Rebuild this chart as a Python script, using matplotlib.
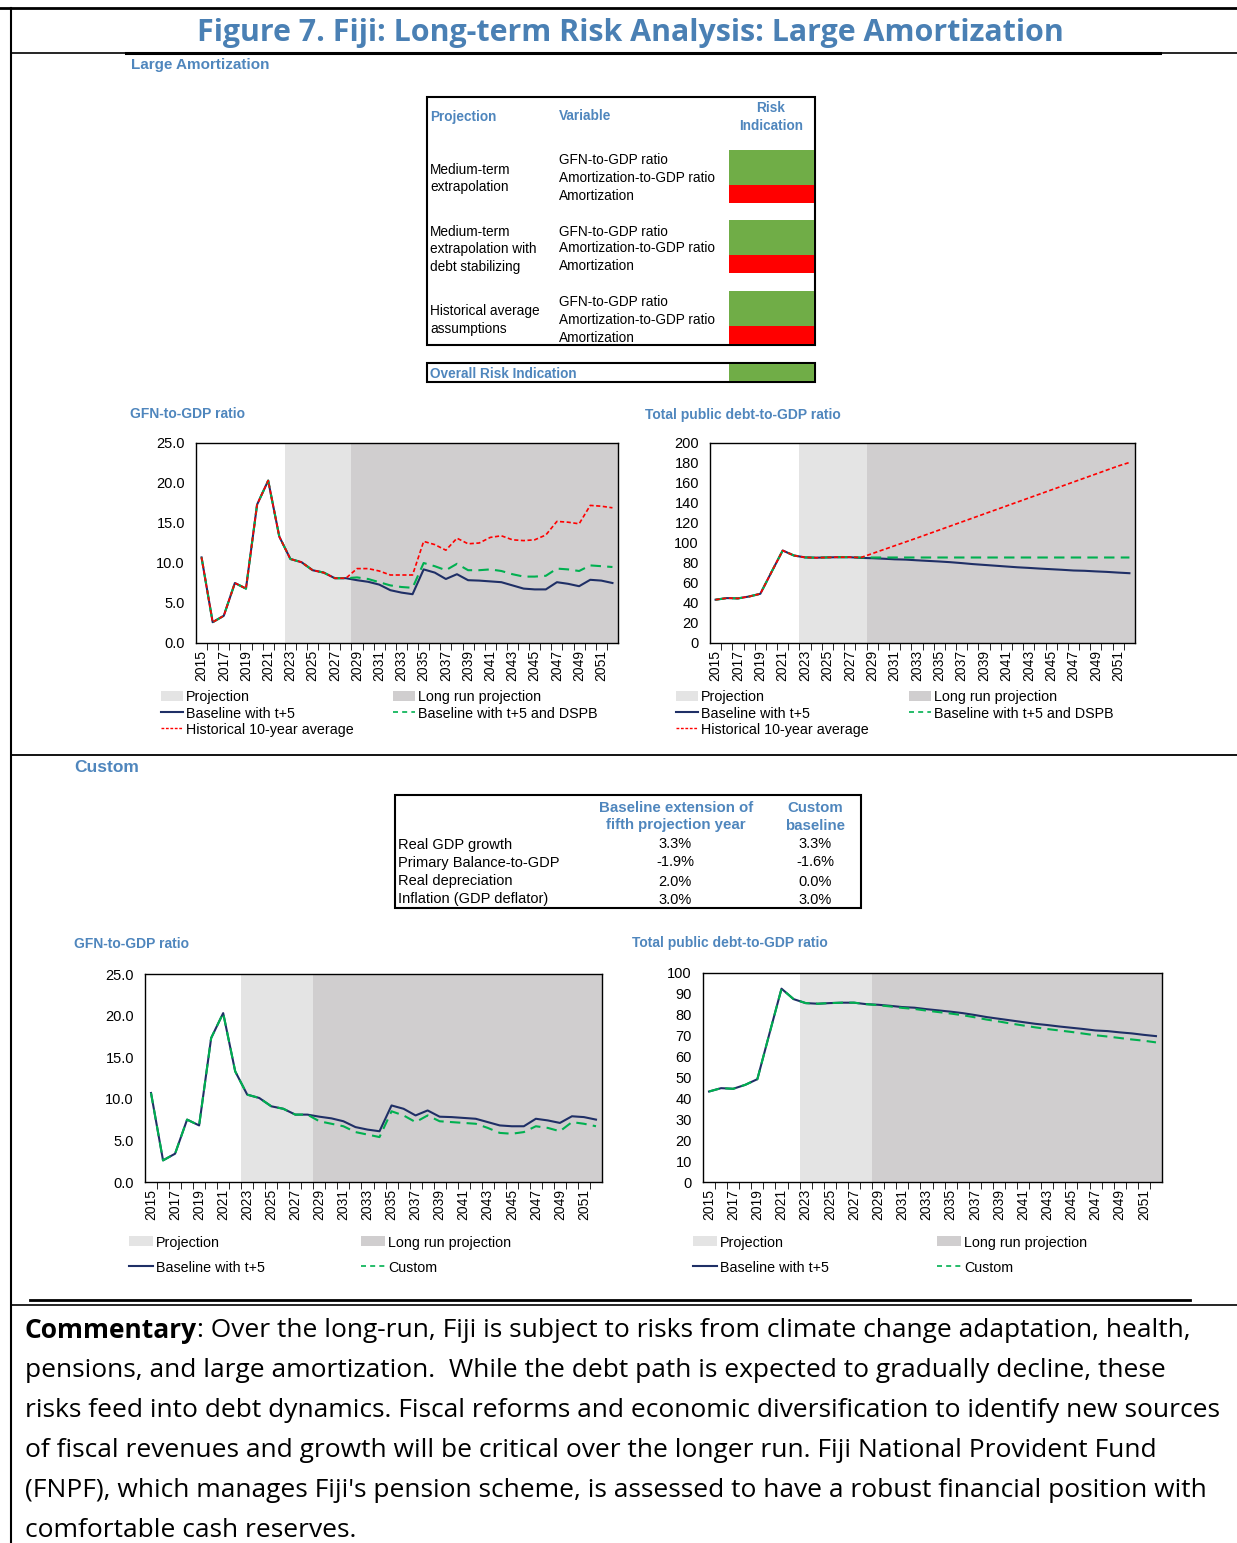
import numpy as np
import matplotlib
matplotlib.use("Agg")
import matplotlib.pyplot as plt
from matplotlib.patches import Rectangle
from matplotlib.lines import Line2D

W, H = 1237, 1543
plt.rcParams['font.family'] = ['Liberation Sans', 'DejaVu Sans']

years = list(range(2015, 2053))

# GFN-to-GDP ratio
gfn_base = [10.7, 2.6, 3.4, 7.5, 6.8, 17.3, 20.3, 13.3, 10.5, 10.1, 9.1, 8.8, 8.1, 8.1,
            7.85, 7.65, 7.3, 6.6, 6.3, 6.1, 9.2, 8.8, 8.0, 8.6, 7.85, 7.8, 7.7, 7.6,
            7.2, 6.8, 6.7, 6.7, 7.6, 7.4, 7.1, 7.9, 7.8, 7.5]
gfn_dspb = [10.7, 2.6, 3.4, 7.5, 6.8, 17.3, 20.3, 13.3, 10.5, 10.1, 9.1, 8.8, 8.1, 8.1,
            8.2, 8.0, 7.6, 7.2, 7.0, 6.9, 10.0, 9.6, 9.1, 9.9, 9.1, 9.1, 9.2, 9.0,
            8.6, 8.3, 8.3, 8.4, 9.3, 9.2, 9.0, 9.7, 9.6, 9.5]
gfn_hist = [10.7, 2.6, 3.4, 7.5, 6.8, 17.3, 20.3, 13.3, 10.5, 10.1, 9.1, 8.8, 8.1, 8.1,
            9.3, 9.3, 9.0, 8.5, 8.5, 8.5, 12.7, 12.3, 11.6, 13.1, 12.4, 12.5, 13.2, 13.4,
            12.9, 12.8, 12.9, 13.5, 15.2, 15.1, 14.9, 17.2, 17.1, 16.9]
gfn_custom = [10.7, 2.6, 3.4, 7.5, 6.8, 17.3, 20.3, 13.3, 10.5, 10.1, 9.1, 8.8, 8.1, 8.1,
              7.3, 7.0, 6.7, 6.0, 5.7, 5.4, 8.5, 8.0, 7.2, 8.0, 7.3, 7.2, 7.1, 7.0,
              6.5, 5.9, 5.8, 6.0, 6.7, 6.5, 6.1, 7.2, 7.0, 6.7]

# Total public debt-to-GDP ratio
debt_base = [43.3, 44.9, 44.6, 46.5, 49.2, 71.0, 92.5, 87.5, 85.6, 85.3, 85.6, 85.8, 85.8, 85.1,
             84.8, 84.3, 83.7, 83.4, 82.7, 82.1, 81.5, 80.8, 79.9, 78.9, 78.1, 77.3, 76.5, 75.7,
             75.1, 74.4, 73.8, 73.2, 72.5, 72.2, 71.6, 71.1, 70.4, 69.8]
debt_dspb = [43.3, 44.9, 44.6, 46.5, 49.2, 71.0, 92.5, 87.5, 85.6, 85.3, 85.6, 85.8, 85.8, 85.5,
             85.5, 85.5, 85.5, 85.5, 85.5, 85.5, 85.5, 85.5, 85.5, 85.5, 85.5, 85.5, 85.5, 85.5,
             85.5, 85.5, 85.5, 85.5, 85.5, 85.5, 85.5, 85.5, 85.5, 85.5]
debt_hist = [43.3, 44.9, 44.6, 46.5, 49.2, 71.0, 92.5, 87.5, 85.6, 85.3, 85.6, 85.8, 85.8, 85.5,
             89.4, 93.3, 97.2, 101.1, 105.0, 109.0, 113.0, 117.0, 121.0, 125.0, 129.0, 133.0,
             137.0, 141.0, 145.0, 149.0, 153.0, 157.0, 161.0, 165.0, 169.0, 173.0, 177.0, 180.5]
debt_custom = [43.3, 44.9, 44.6, 46.5, 49.2, 71.0, 92.5, 87.5, 85.6, 85.3, 85.6, 85.8, 85.8, 85.1,
               84.6, 84.0, 83.3, 82.8, 82.0, 81.3, 80.6, 79.8, 78.8, 77.7, 76.8, 75.8, 74.9, 74.0,
               73.2, 72.5, 71.8, 71.0, 70.2, 69.6, 68.9, 68.2, 67.6, 66.8]

# risk table
proj_labels = [["Medium-term", "extrapolation"],
               ["Medium-term", "extrapolation with", "debt stabilizing"],
               ["Historical average", "assumptions"]]
variables = ["GFN-to-GDP ratio", "Amortization-to-GDP ratio", "Amortization"]
risk_colors = [["#70ad47", "#ff0000"], ["#70ad47", "#ff0000"], ["#70ad47", "#ff0000"]]

# custom table
assump_rows = ["Real GDP growth", "Primary Balance-to-GDP", "Real depreciation", "Inflation (GDP deflator)"]
assump_base = ["3.3%", "-1.9%", "2.0%", "3.0%"]
assump_custom = ["3.3%", "-1.6%", "0.0%", "3.0%"]

commentary = [
    "pensions, and large amortization.  While the debt path is expected to gradually decline, these",
    "risks feed into debt dynamics. Fiscal reforms and economic diversification to identify new sources",
    "of fiscal revenues and growth will be critical over the longer run. Fiji National Provident Fund",
    "(FNPF), which manages Fiji's pension scheme, is assessed to have a robust financial position with",
    "comfortable cash reserves.",
]

BLUE = "#4f86bd"
NAVY = "#1f2f66"
GREEN = "#00b050"
RED = "#ff0000"
LIGHT = "#e4e4e4"
DARK = "#d0cecf"

fig = plt.figure(figsize=(W / 100, H / 100), dpi=100)
renderer = fig.canvas.get_renderer()


def fx(x):
    return x / W


def fy(y):
    return 1 - y / H


def txt(x, y, s, **kw):
    kw.setdefault("va", "center")
    return fig.text(fx(x), fy(y + 1.5), s, **kw)


def hline(x0, x1, y, lw):
    fig.add_artist(Line2D([fx(x0), fx(x1)], [fy(y), fy(y)], color="black", lw=lw,
                          transform=fig.transFigure))


def rect(x0, y0, x1, y1, fc="none", ec="none", lw=0):
    fig.add_artist(Rectangle((fx(x0), fy(y1)), fx(x1) - fx(x0), fy(y0) - fy(y1),
                             facecolor=fc, edgecolor=ec, lw=lw, transform=fig.transFigure))


def fit_size(s, width, **kw):
    t = fig.text(0, 0, s, fontsize=10, **kw)
    w = t.get_window_extent(renderer).width
    t.remove()
    return 10 * width / w


# frame
hline(0, W, 8, 2.0)
fig.add_artist(Line2D([fx(11), fx(11)], [fy(8), 0], color="black", lw=1.5, transform=fig.transFigure))
hline(11, W, 53, 1.2)
hline(126, 1160, 53, 2.2)
hline(11, W, 755, 1.3)
hline(30, 1190, 1300, 2.0)
hline(11, W, 1305, 1.2)

# title
title = "Figure 7. Fiji: Long-term Risk Analysis: Large Amortization"
ts = fit_size(title, 870, family="Open Sans", weight="bold")
txt(630, 31, title, ha="center", fontsize=ts, family="Open Sans", weight="bold", color="#4a80b4")

txt(131, 64, "Large Amortization", fontsize=11, weight="bold", color=BLUE)
txt(74, 766, "Custom", fontsize=12.5, weight="bold", color=BLUE)

# risk table
rect(427, 97, 815, 345, ec="black", lw=1.5)
txt(430, 115, "Projection", fontsize=9.8, weight="bold", color=BLUE)
txt(559, 115, "Variable", fontsize=9.8, weight="bold", color=BLUE)
txt(771, 107, "Risk", fontsize=9.8, weight="bold", color=BLUE, ha="center")
txt(771, 124, "Indication", fontsize=9.8, weight="bold", color=BLUE, ha="center")
group_top = [150, 220, 291]
label_y = [[168, 186], [230, 247, 265], [309, 327]]
var_y = [[159, 176, 194], [230, 247, 265], [300, 318, 336]]
for g in range(3):
    for k, s in enumerate(proj_labels[g]):
        txt(430, label_y[g][k], s, fontsize=9.8)
    for k, s in enumerate(variables):
        txt(559, var_y[g][k], s, fontsize=9.8)
    top = group_top[g]
    rect(729, top, 814, top + 35, fc=risk_colors[g][0])
    rect(729, top + 35, 814, top + 53, fc=risk_colors[g][1])
rect(427, 363, 815, 382, ec="black", lw=1.5)
rect(729, 364, 814, 381, fc="#70ad47")
txt(430, 373, "Overall Risk Indication", fontsize=9.8, weight="bold", color=BLUE)

# custom table
rect(395, 795, 861, 908, ec="black", lw=1.5)
txt(676, 806, "Baseline extension of", fontsize=10.8, weight="bold", color=BLUE, ha="center")
txt(676, 824, "fifth projection year", fontsize=10.8, weight="bold", color=BLUE, ha="center")
txt(815, 806, "Custom", fontsize=10.8, weight="bold", color=BLUE, ha="center")
txt(815, 824, "baseline", fontsize=10.8, weight="bold", color=BLUE, ha="center")
for k, yy in enumerate([843, 861, 880, 898]):
    txt(398, yy, assump_rows[k], fontsize=10.5)
    txt(675, yy, assump_base[k], fontsize=10.5, ha="center")
    txt(815, yy, assump_custom[k], fontsize=10.5, ha="center")

# chart titles
txt(130, 413, "GFN-to-GDP ratio", fontsize=10, weight="bold", color=BLUE)
txt(645, 413, "Total public debt-to-GDP ratio", fontsize=10, weight="bold", color=BLUE)
txt(74, 942, "GFN-to-GDP ratio", fontsize=10, weight="bold", color=BLUE)
txt(632, 942, "Total public debt-to-GDP ratio", fontsize=10, weight="bold", color=BLUE)


def make_axes(l, t, r, b, ymax, ystep, fmt, series):
    ax = fig.add_axes([fx(l), fy(b), fx(r) - fx(l), fy(t) - fy(b)])
    x = np.arange(len(years))
    ax.axvspan(7.5, 13.5, color=LIGHT, lw=0)
    ax.axvspan(13.5, 37.5, color=DARK, lw=0)
    for vals, color, ls, lw in series:
        ax.plot(x, vals, color=color, ls=ls, lw=lw)
    ax.set_xlim(-0.5, 37.5)
    ax.set_ylim(0, ymax)
    ax.set_yticks(np.arange(0, ymax + ystep / 2, ystep))
    ax.set_yticklabels([fmt.format(v) for v in np.arange(0, ymax + ystep / 2, ystep)], fontsize=10.5)
    ax.set_xticks(x[::2])
    ax.set_xticklabels([str(y) for y in years[::2]], rotation=90, fontsize=10)
    ax.set_xticks(np.arange(0.5, 37, 1), minor=True)
    ax.tick_params(axis="x", which="major", length=0, pad=5)
    ax.tick_params(axis="x", which="minor", length=5, direction="out", color="black")
    ax.tick_params(axis="y", length=0, pad=8)
    for sp in ax.spines.values():
        sp.set_color("black")
        sp.set_linewidth(1.0)
    return ax


def legend_patch(x, y, w, color, label):
    rect(x, y - 5, x + w, y + 5, fc=color)
    txt(x + w + 3, y, label, fontsize=10.3)


def legend_line(x, y, w, color, ls, label, lw=1.5):
    fig.add_artist(Line2D([fx(x), fx(x + w)], [fy(y), fy(y)], color=color, ls=ls, lw=lw,
                          transform=fig.transFigure))
    txt(x + w + 3, y, label, fontsize=10.3)


top_series_gfn = [(gfn_base, NAVY, "-", 1.5), (gfn_dspb, GREEN, (0, (5, 3)), 1.5),
                  (gfn_hist, RED, (0, (2.5, 1.5)), 1.2)]
top_series_debt = [(debt_base, NAVY, "-", 1.5), (debt_dspb, GREEN, (0, (5, 3)), 1.5),
                   (debt_hist, RED, (0, (2.5, 1.5)), 1.2)]
make_axes(196, 443, 618, 643, 25, 5, "{:.1f}", top_series_gfn)
make_axes(710, 443, 1135, 643, 200, 20, "{:.0f}", top_series_debt)
make_axes(145, 974, 602, 1182, 25, 5, "{:.1f}",
          [(gfn_base, NAVY, "-", 1.5), (gfn_custom, GREEN, (0, (5, 3)), 1.5)])
make_axes(703, 973, 1162, 1182, 100, 10, "{:.0f}",
          [(debt_base, NAVY, "-", 1.5), (debt_custom, GREEN, (0, (5, 3)), 1.5)])

# legends (top)
for x0, x1 in [(161, 393), (676, 909)]:
    legend_patch(x0, 696, 22, LIGHT, "Projection")
    legend_patch(x1, 696, 22, DARK, "Long run projection")
    legend_line(x0, 712, 22, NAVY, "-", "Baseline with t+5")
    legend_line(x1, 712, 22, GREEN, (0, (3, 2.5)), "Baseline with t+5 and DSPB", lw=1.2)
    legend_line(x0, 728, 22, RED, (0, (2, 1.2)), "Historical 10-year average", lw=1.0)

# legends (bottom)
for x0, x1 in [(129, 361), (693, 937)]:
    legend_patch(x0, 1241, 24, LIGHT, "Projection")
    legend_patch(x1, 1241, 24, DARK, "Long run projection")
    legend_line(x0, 1266, 24, NAVY, "-", "Baseline with t+5")
    legend_line(x1, 1266, 24, GREEN, (0, (3, 2.5)), "Custom", lw=1.2)

# commentary
cs = fit_size(commentary[1], 1197, family="Open Sans")
b = txt(25, 1329, "Commentary", fontsize=cs, family="Open Sans", weight="bold")
bw = b.get_window_extent(renderer).width
txt(25 + bw, 1329, ": Over the long-run, Fiji is subject to risks from climate change adaptation, health,",
    fontsize=cs, family="Open Sans")
for k, line in enumerate(commentary):
    txt(25, 1369 + 40 * k, line, fontsize=cs, family="Open Sans")

fig.savefig("out.png", dpi=100)
